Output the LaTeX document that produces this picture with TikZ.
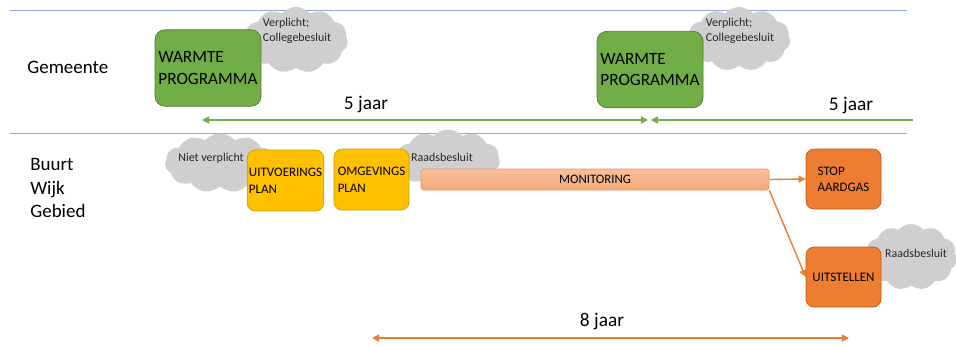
\documentclass[tikz,border=0pt]{standalone}
\usepackage{fontspec}
\setmainfont{Carlito}
\usetikzlibrary{shapes.symbols, arrows.meta}
\definecolor{lijnblauw}{HTML}{8FAADC}
\definecolor{groen}{HTML}{70AD47}
\definecolor{groenrand}{HTML}{507E32}
\definecolor{geel}{HTML}{FFC000}
\definecolor{geelrand}{HTML}{C9A000}
\definecolor{oranje}{HTML}{ED7D31}
\definecolor{oranjerand}{HTML}{C55A11}
\definecolor{wolkgrijs}{HTML}{D0CECE}

\begin{document}
\begin{tikzpicture}[x=0.02cm, y=-0.02cm, >={Triangle[length=4pt,width=4pt]},
					wolk/.style={cloud, cloud puffs=11, cloud puff arc=100, cloud ignores aspect, fill=wolkgrijs, inner sep=0pt},
					wolktekst/.style={align=left, inner sep=0pt, text=black!85, font=\fontsize{6.8}{8.2}\selectfont},
					programma/.style={draw=groenrand, fill=groen, rounded corners=0.2cm, minimum width=2.12cm, minimum height=1.53cm, align=left, inner sep=1pt, font=\fontsize{9.8}{12.4}\selectfont},
					plan/.style={draw=geelrand, fill=geel, rounded corners=0.16cm, minimum width=1.5cm, minimum height=1.22cm, align=left, inner sep=1pt, font=\fontsize{7.4}{9.6}\selectfont},
					besluit/.style={draw=oranjerand, fill=oranje, rounded corners=0.16cm, minimum width=1.5cm, minimum height=1.2cm, align=left, inner sep=1pt, font=\fontsize{7.4}{9.2}\selectfont},
					jaar/.style={font=\fontsize{11}{13}\selectfont},
					niveau/.style={align=left, anchor=west, inner sep=0pt, font=\fontsize{10.8}{13.6}\selectfont}]
					\useasboundingbox (0,0) rectangle (956,346);
					
					\draw[lijnblauw] (10,10) -- (907,10);
					\draw[lijnblauw] (10,133) -- (907,133);
					
					\node[niveau] (gemeente) at (27,67) {Gemeente};
					\node[niveau] (buurt) at (30,188) {Buurt\\Wijk\\Gebied};
					
					\node[wolk, minimum width=2.08cm, minimum height=1.32cm] (wolkA) at (296,40) {};
					\node[wolk, minimum width=2.06cm, minimum height=1.28cm] (wolkB) at (739,39) {};
					\node[wolk, minimum width=2.2cm, minimum height=1.18cm] (wolkC) at (220,163) {};
					\node[wolk, minimum width=2.08cm, minimum height=1.22cm] (wolkD) at (448,160) {};
					\node[wolk, minimum width=1.84cm, minimum height=1.32cm] (wolkE) at (911,257) {};
					
					\node[wolktekst] (tekstA) at (297,31) {Verplicht;\\Collegebesluit};
					\node[wolktekst] (tekstB) at (740,31) {Verplicht;\\Collegebesluit};
					\node[wolktekst] (tekstC) at (211,158) {Niet verplicht};
					\node[wolktekst] (tekstD) at (442,157) {Raadsbesluit};
					\node[wolktekst] (tekstE) at (916,253) {Raadsbesluit};
					
					\node[programma] (warmteA) at (208,68) {WARMTE\\PROGRAMMA};
					\node[programma] (warmteB) at (650,69.5) {WARMTE\\PROGRAMMA};
					
					\node[plan] (uitvoering) at (285.5,180.5) {UITVOERINGS\\PLAN};
					\node[plan] (omgeving) at (371.5,179.5) {OMGEVINGS\\PLAN};
					
					\node[draw=oranje!85, top color=oranje!48, bottom color=oranje!66, rounded corners=0.06cm, minimum width=6.96cm, minimum height=0.42cm, inner sep=0pt, font=\fontsize{7.3}{9}\selectfont] (monitoring) at (595,179.5) {MONITORING};
					
					\node[besluit] (stop) at (843.5,179) {STOP\\AARDGAS};
					\node[besluit] (uitstellen) at (843.5,277) {UITSTELLEN};
					
					\draw[->, oranje, thick] (monitoring.east) -- (stop.west);
					\draw[->, oranje, thick] (monitoring.south east) -- (uitstellen.west);
					
					\coordinate (startA) at (202,120);
					\coordinate (eindA) at (648,120);
					\coordinate (startB) at (651,120);
					\coordinate (eindB) at (913,120);
					\draw[<->, groen, thick] (startA) -- (eindA);
					\draw[<-, groen, thick] (startB) -- (eindB);
					\node[jaar] (jaarA) at (366,104) {5 jaar};
					\node[jaar] (jaarB) at (851,105) {5 jaar};
					
					\coordinate (startC) at (372,338);
					\coordinate (eindC) at (849,338);
					\draw[<->, oranje, thick] (startC) -- (eindC);
					\node[jaar] (jaarC) at (602,321) {8 jaar};
					
				\end{tikzpicture}
\end{document}
